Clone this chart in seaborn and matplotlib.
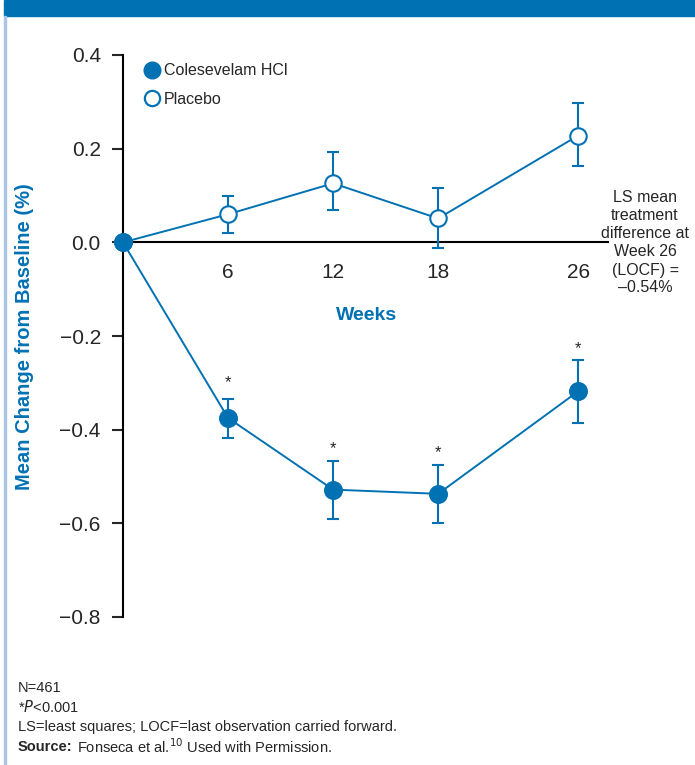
import pandas as pd
import matplotlib.pyplot as plt
import seaborn as sns
from matplotlib.patches import Rectangle
from matplotlib.lines import Line2D

# Data
weeks = [0, 6, 12, 18, 26]
coles_mean = [0.0, -0.375, -0.528, -0.537, -0.318]
coles_lo = [0.0, -0.418, -0.590, -0.600, -0.385]
coles_hi = [0.0, -0.335, -0.467, -0.476, -0.252]
placebo_mean = [0.0, 0.060, 0.126, 0.051, 0.228]
placebo_lo = [0.0, 0.019, 0.068, -0.013, 0.162]
placebo_hi = [0.0, 0.098, 0.192, 0.115, 0.297]
star_weeks = [6, 12, 18, 26]
star_y = [-0.30, -0.44, -0.45, -0.226]
y_ticks = [0.4, 0.2, 0.0, -0.2, -0.4, -0.6, -0.8]
x_ticks = [6, 12, 18, 26]

blue = "#0071B3"
narrow = ["Liberation Sans Narrow", "Liberation Sans", "DejaVu Sans"]

df = pd.DataFrame({
    "week": weeks * 2,
    "change": coles_mean + placebo_mean,
    "group": ["Colesevelam HCl"] * 5 + ["Placebo"] * 5,
})

sns.set_style("white")
plt.rcParams["font.family"] = ["Liberation Sans", "DejaVu Sans"]

fig = plt.figure(figsize=(6.95, 7.65), dpi=100)
ax = fig.add_axes([123 / 695, 148 / 765, 485 / 695, 562 / 765])

# Lines
sns.lineplot(data=df[df.group == "Placebo"], x="week", y="change", color=blue,
             lw=1.4, ax=ax, legend=False, zorder=2)
sns.lineplot(data=df[df.group == "Colesevelam HCl"], x="week", y="change", color=blue,
             lw=1.4, ax=ax, legend=False, zorder=2)

# Error bars
for m, lo, hi in [(placebo_mean, placebo_lo, placebo_hi), (coles_mean, coles_lo, coles_hi)]:
    yerr = [[a - b for a, b in zip(m[1:], lo[1:])], [b - a for a, b in zip(m[1:], hi[1:])]]
    ax.errorbar(weeks[1:], m[1:], yerr=yerr, fmt="none", ecolor=blue,
                elinewidth=1.5, capsize=4, capthick=1.5, zorder=3)

# Markers
sns.scatterplot(x=weeks, y=placebo_mean, ax=ax, marker="o", s=140,
                facecolor="white", edgecolor=blue, linewidth=1.5, zorder=4, clip_on=False)
sns.scatterplot(x=weeks, y=coles_mean, ax=ax, marker="o", s=160,
                color=blue, edgecolor=blue, linewidth=1, zorder=5, clip_on=False)

for w, y in zip(star_weeks, star_y):
    ax.text(w, y, "*", ha="center", va="center", fontsize=12, family=narrow)

ax.set_xlim(0, 27.7)
ax.set_ylim(-0.8, 0.4)
ax.set_yticks(y_ticks)
ax.set_yticklabels([f"{v:.1f}".replace("-", "\u2212") for v in y_ticks])
ax.set_xticks(x_ticks)
ax.set_xticklabels([str(v) for v in x_ticks])
ax.spines["top"].set_visible(False)
ax.spines["right"].set_visible(False)
ax.spines["bottom"].set_position(("data", 0))
for s in ["left", "bottom"]:
    ax.spines[s].set_color("black")
    ax.spines[s].set_linewidth(1.5)
ax.tick_params(axis="y", direction="out", length=8, width=1.5, pad=8, labelsize=15, left=True)
ax.tick_params(axis="x", length=0, pad=15, labelsize=15)
ax.set_xlabel("")
ax.set_ylabel("")
ax.grid(False)

# Axis titles
fig.text(367 / 695, 1 - 315 / 765, "Weeks", ha="center",
         va="center", color=blue, fontsize=14, fontweight="bold", family=narrow)
fig.text(25 / 695, 1 - 337 / 765, "Mean Change from Baseline (%)", rotation=90,
         ha="center", va="center", color=blue, fontsize=14.5, fontweight="bold", family=narrow)

# Legend
handles = [
    Line2D([], [], marker="o", ls="none", color=blue, markersize=12),
    Line2D([], [], marker="o", ls="none", markerfacecolor="white",
           markeredgecolor=blue, markeredgewidth=1.6, markersize=11),
]
ax.legend(handles, ["Colesevelam HCl", "Placebo"], loc="upper left",
          bbox_to_anchor=(0.045, 0.985), frameon=False, handlelength=0.9,
          handletextpad=0.3, borderpad=0, borderaxespad=0, labelspacing=0.85,
          prop={"family": narrow, "size": 11.5})

# Side annotation
fig.text(645 / 695, 1 - 243 / 765,
         "LS mean\ntreatment\ndifference at\nWeek 26\n(LOCF) =\n\u20130.54%",
         ha="center", va="center", fontsize=11.5, family=narrow, linespacing=1.25)

# Footnotes
fs = 10.5
foot_y = [688, 707, 727, 747]
fig.text(18 / 695, 1 - foot_y[0] / 765, "N=461", va="center", fontsize=fs, family=narrow)
fig.text(18 / 695, 1 - foot_y[1] / 765, "*$P$<0.001", va="center", fontsize=fs, family=narrow)
fig.text(18 / 695, 1 - foot_y[2] / 765,
         "LS=least squares; LOCF=last observation carried forward.",
         va="center", fontsize=fs, family=narrow)
t = fig.text(18 / 695, 1 - foot_y[3] / 765, "Source:", va="center", fontsize=fs,
             fontweight="bold", family=narrow)
fig.canvas.draw()
bb = t.get_window_extent()
fig.text((bb.x1 + 4) / 695, 1 - foot_y[3] / 765,
         "Fonseca et al.$^{10}$ Used with Permission.", va="center",
         fontsize=fs, family=narrow)

# Header band and left rule
fig.patches.append(Rectangle((4 / 695, 1 - 16 / 765), 1, 16 / 765, transform=fig.transFigure,
                             color=blue, zorder=0))
fig.patches.append(Rectangle((4 / 695, 0), 2 / 695, 1 - 16 / 765, transform=fig.transFigure,
                             color="#A9C4E4", zorder=0))

fig.savefig("out.png", dpi=100)
